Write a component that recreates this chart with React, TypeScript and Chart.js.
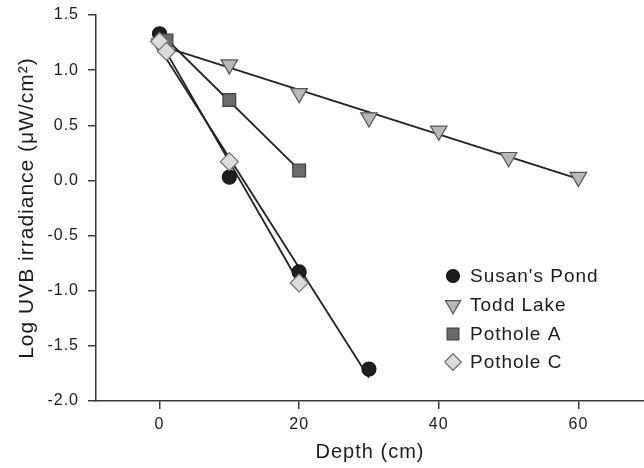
import React, { useEffect, useRef } from 'react';
import { Chart, registerables } from 'chart.js';
import { drawPoint } from 'chart.js/helpers';

Chart.register(...registerables);

// ---- data ----
const seriesNames = ["Susan's Pond", 'Todd Lake', 'Pothole A', 'Pothole C'];

const susanDepth = [0, 10, 20, 30];
const susanLog = [1.33, 0.03, -0.83, -1.71];

const toddDepth = [0, 10, 20, 30, 40, 50, 60];
const toddLog = [1.24, 1.05, 0.79, 0.57, 0.45, 0.21, 0.03];

const potholeADepth = [1, 10, 20];
const potholeALog = [1.27, 0.73, 0.09];

const potholeCDepth = [0, 1, 10, 20];
const potholeCLog = [1.26, 1.17, 0.17, -0.93];

// fitted straight lines (end points)
const susanFitDepth = [0, 30];
const susanFitLog = [1.2, -1.79];
const toddFitDepth = [0, 60];
const toddFitLog = [1.225, 0.014];
const potholeAFitDepth = [1, 20];
const potholeAFitLog = [1.28, 0.095];
const potholeCFitDepth = [0, 20];
const potholeCFitLog = [1.27, -0.93];

const xTicks = [0, 20, 40, 60];
const yTicks = [-2.0, -1.5, -1.0, -0.5, 0.0, 0.5, 1.0, 1.5];

const xTitle = 'Depth (cm)';
const yTitle = 'Log UVB irradiance (\u03bcW/cm\u00b2)';

const FONT = "'Liberation Sans', Arial, Helvetica, sans-serif";
const TEXT = '#1c1c1c';
const AXIS = '#3a3a3a';

const pts = (xs: number[], ys: number[]) => xs.map((x, i) => ({ x, y: ys[i] }));

const markerStyles = [
  { pointStyle: 'circle', rotation: 0, radius: 7, bg: '#1e1e1e', border: '#111111' },
  { pointStyle: 'triangle', rotation: 180, radius: 9.5, bg: '#b8b8b8', border: '#555555' },
  { pointStyle: 'rect', rotation: 0, radius: 9, bg: '#6b6b6b', border: '#3e3e3e' },
  { pointStyle: 'rectRot', rotation: 0, radius: 9, bg: '#dcdcdc', border: '#707070' },
];

const legendPlugin = {
  id: 'insideLegend',
  afterDraw(chart: any) {
    const ctx = chart.ctx;
    const markerX = 453;
    const textX = 470;
    const rowY = [276, 305, 334, 362];
    ctx.save();
    ctx.font = `19px ${FONT}`;
    ctx.textBaseline = 'middle';
    ctx.textAlign = 'left';
    seriesNames.forEach((name, i) => {
      const m = markerStyles[i];
      ctx.fillStyle = m.bg;
      ctx.strokeStyle = m.border;
      ctx.lineWidth = 1.2;
      drawPoint(ctx, { pointStyle: m.pointStyle as any, rotation: m.rotation, radius: m.radius * 0.92, borderWidth: 1.2 }, markerX, rowY[i]);
      ctx.fillStyle = TEXT;
      ctx.fillText(name, textX, rowY[i] + 1);
    });
    ctx.restore();
  },
};

const spacingPlugin = {
  id: 'letterSpacing',
  beforeInit(chart: any) { (chart.ctx as any).letterSpacing = '1px'; },
  beforeLayout(chart: any) { (chart.ctx as any).letterSpacing = '1px'; },
  beforeDraw(chart: any) { (chart.ctx as any).letterSpacing = '1px'; },
};

export default function App() {
  const ref = useRef<HTMLCanvasElement | null>(null);

  useEffect(() => {
    document.body.style.margin = '0';
    if (!ref.current) return;
    const fitLine = (xs: number[], ys: number[], order: number) => ({
      type: 'scatter' as const,
      data: pts(xs, ys),
      showLine: true,
      borderColor: '#222222',
      borderWidth: 1.8,
      pointRadius: 0,
      pointHoverRadius: 0,
      fill: false,
      order,
    });
    const markers = (i: number, xs: number[], ys: number[], order: number) => ({
      type: 'scatter' as const,
      label: seriesNames[i],
      data: pts(xs, ys),
      showLine: false,
      pointStyle: markerStyles[i].pointStyle as any,
      rotation: markerStyles[i].rotation,
      pointRadius: markerStyles[i].radius,
      pointBackgroundColor: markerStyles[i].bg,
      pointBorderColor: markerStyles[i].border,
      pointBorderWidth: 1.2,
      order,
    });

    const chart = new Chart(ref.current, {
      type: 'scatter',
      data: {
        datasets: [
          markers(3, potholeCDepth, potholeCLog, 1),
          markers(2, potholeADepth, potholeALog, 2),
          markers(0, susanDepth, susanLog, 3),
          markers(1, toddDepth, toddLog, 4),
          fitLine(potholeCFitDepth, potholeCFitLog, 5),
          fitLine(potholeAFitDepth, potholeAFitLog, 6),
          fitLine(susanFitDepth, susanFitLog, 7),
          fitLine(toddFitDepth, toddFitLog, 8),
        ] as any,
      },
      options: {
        responsive: false,
        animation: false,
        events: [],
        layout: { autoPadding: false, padding: { top: 15, right: 0, left: 0, bottom: 0 } },
        plugins: { legend: { display: false }, tooltip: { enabled: false } },
        scales: {
          x: {
            type: 'linear',
            min: -9.1,
            max: 69.4,
            afterBuildTicks: (axis: any) => { axis.ticks = xTicks.map((v) => ({ value: v })); },
            afterFit: (axis: any) => { axis.height = 67; axis.paddingLeft = 0; axis.paddingRight = 0; },
            grid: { display: true, drawOnChartArea: false, drawTicks: true, tickLength: 8, color: AXIS, lineWidth: 1.5 },
            border: { display: true, color: AXIS, width: 1.5 },
            ticks: { color: TEXT, font: { family: FONT, size: 16 }, padding: 6, maxRotation: 0, callback: (v: any) => String(v) },
            title: { display: true, text: xTitle, color: TEXT, font: { family: FONT, size: 20 }, padding: { top: 0, bottom: 4 } },
          },
          y: {
            type: 'linear',
            min: -2,
            max: 1.5,
            afterBuildTicks: (axis: any) => { axis.ticks = yTicks.map((v) => ({ value: v })); },
            afterFit: (axis: any) => { axis.width = 96; axis.paddingTop = 0; axis.paddingBottom = 0; },
            grid: { display: true, drawOnChartArea: false, drawTicks: true, tickLength: 8, color: AXIS, lineWidth: 1.5 },
            border: { display: true, color: AXIS, width: 1.5 },
            ticks: { color: TEXT, font: { family: FONT, size: 16 }, padding: 9, callback: (v: any) => Number(v).toFixed(1) },
            title: { display: true, text: yTitle, color: TEXT, font: { family: FONT, size: 21 }, padding: { top: 15, bottom: 0 } },
          },
        },
      },
      plugins: [spacingPlugin, legendPlugin],
    });
    return () => chart.destroy();
  }, []);

  return (
    <div style={{ position: 'absolute', left: 0, top: 0, width: 644, height: 468, background: '#ffffff' }}>
      <canvas ref={ref} width={644} height={468} style={{ width: 644, height: 468, display: 'block' }} />
    </div>
  );
}
